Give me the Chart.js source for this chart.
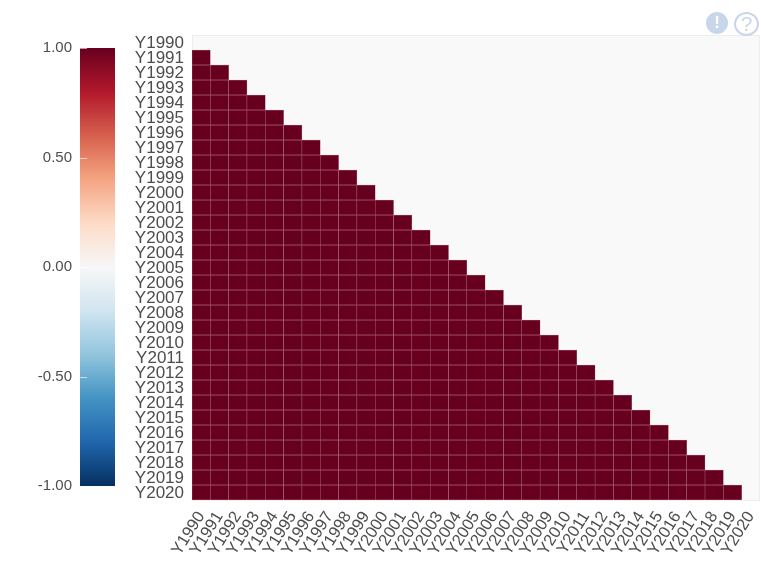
<!DOCTYPE html>
<html>
<head>
<meta charset="utf-8">
<script src="https://cdn.jsdelivr.net/npm/chart.js@4"></script>
<style>
  body { margin: 0; background: #fff; width: 762px; height: 562px; overflow: hidden; font-family: "Liberation Sans", Arial, sans-serif; }
  canvas { position: absolute; left: 0; top: 0; filter: blur(0.6px); }
  .icon { position: absolute; box-sizing: border-box; border-radius: 50%; text-align: center; font-weight: bold; color: #c9d6ea; }
  #iconInfo { left: 706px; top: 12px; width: 22px; height: 22px; line-height: 22px; background: #c9d6ea; color: #fff; font-size: 17px; }
  #iconHelp { left: 734px; top: 12px; width: 25px; height: 24px; line-height: 20px; border: 2px solid #c9d6ea; font-size: 21px; font-weight: normal; }
</style>
</head>
<body>
<canvas id="heatmap" width="762" height="562"></canvas>
<canvas id="colorbar" width="116" height="562"></canvas>
<div class="icon" id="iconInfo">!</div>
<div class="icon" id="iconHelp">?</div>
<script>
var years = ['Y1990','Y1991','Y1992','Y1993','Y1994','Y1995','Y1996','Y1997','Y1998','Y1999','Y2000',
  'Y2001','Y2002','Y2003','Y2004','Y2005','Y2006','Y2007','Y2008','Y2009','Y2010',
  'Y2011','Y2012','Y2013','Y2014','Y2015','Y2016','Y2017','Y2018','Y2019','Y2020'];

// lower triangle of the correlation table, one row per year (Y1990 row is empty)
var corr = [
  [],
  [1],
  [1,1],
  [1,1,1],
  [1,1,1,1],
  [1,1,1,1,1],
  [1,1,1,1,1,1],
  [1,1,1,1,1,1,1],
  [1,1,1,1,1,1,1,1],
  [1,1,1,1,1,1,1,1,1],
  [1,1,1,1,1,1,1,1,1,1],
  [1,1,1,1,1,1,1,1,1,1,1],
  [1,1,1,1,1,1,1,1,1,1,1,1],
  [1,1,1,1,1,1,1,1,1,1,1,1,1],
  [1,1,1,1,1,1,1,1,1,1,1,1,1,1],
  [1,1,1,1,1,1,1,1,1,1,1,1,1,1,1],
  [1,1,1,1,1,1,1,1,1,1,1,1,1,1,1,1],
  [1,1,1,1,1,1,1,1,1,1,1,1,1,1,1,1,1],
  [1,1,1,1,1,1,1,1,1,1,1,1,1,1,1,1,1,1],
  [1,1,1,1,1,1,1,1,1,1,1,1,1,1,1,1,1,1,1],
  [1,1,1,1,1,1,1,1,1,1,1,1,1,1,1,1,1,1,1,1],
  [1,1,1,1,1,1,1,1,1,1,1,1,1,1,1,1,1,1,1,1,1],
  [1,1,1,1,1,1,1,1,1,1,1,1,1,1,1,1,1,1,1,1,1,1],
  [1,1,1,1,1,1,1,1,1,1,1,1,1,1,1,1,1,1,1,1,1,1,1],
  [1,1,1,1,1,1,1,1,1,1,1,1,1,1,1,1,1,1,1,1,1,1,1,1],
  [1,1,1,1,1,1,1,1,1,1,1,1,1,1,1,1,1,1,1,1,1,1,1,1,1],
  [1,1,1,1,1,1,1,1,1,1,1,1,1,1,1,1,1,1,1,1,1,1,1,1,1,1],
  [1,1,1,1,1,1,1,1,1,1,1,1,1,1,1,1,1,1,1,1,1,1,1,1,1,1,1],
  [1,1,1,1,1,1,1,1,1,1,1,1,1,1,1,1,1,1,1,1,1,1,1,1,1,1,1,1],
  [1,1,1,1,1,1,1,1,1,1,1,1,1,1,1,1,1,1,1,1,1,1,1,1,1,1,1,1,1],
  [1,1,1,1,1,1,1,1,1,1,1,1,1,1,1,1,1,1,1,1,1,1,1,1,1,1,1,1,1,1]
];

// colour scale, from -1 up to 1
var scaleColors = ['#053061','#2166ac','#4393c3','#92c5de','#d1e5f0','#f7f7f7','#fddbc7','#f4a582','#d6604d','#b2182b','#67001f'];
var colorbarRange = [-1, 1];
var colorbarTicks = [-1, -0.5, 0, 0.5, 1];

function hexToRgb(h) {
  return [parseInt(h.substr(1,2),16), parseInt(h.substr(3,2),16), parseInt(h.substr(5,2),16)];
}

function colorFor(v) {
  var p = (v + 1) / 2 * (scaleColors.length - 1);
  var i = Math.min(Math.floor(p), scaleColors.length - 2);
  var a = hexToRgb(scaleColors[i]), b = hexToRgb(scaleColors[i + 1]);
  var t = p - i;
  return 'rgb(' + [0,1,2].map(function(k) { return Math.round(a[k] + (b[k] - a[k]) * t); }).join(',') + ')';
}

// each table row becomes one dataset of floating bars
var datasets = corr.map(function(row, r) {
  return {
    label: years[r],
    yAxisID: 'yCell',
    data: row.map(function(v, c) { return { x: years[c], y: [r, r + 1], v: v }; }),
    backgroundColor: function(ctx) { return ctx.raw ? colorFor(ctx.raw.v) : '#67001f'; },
    borderColor: '#b5748a',
    borderWidth: 0.5,
    borderSkipped: false,
    grouped: false,
    barPercentage: 1,
    categoryPercentage: 1
  };
});

var plotBackground = {
  id: 'plotBackground',
  beforeDraw: function(chart) {
    var a = chart.chartArea, c = chart.ctx;
    c.save();
    c.fillStyle = '#f9f9f9';
    c.fillRect(a.left, a.top, a.width, a.height);
    c.strokeStyle = '#eeeeee';
    c.strokeRect(a.left + 0.5, a.top + 0.5, a.width - 1, a.height);
    c.restore();
  }
};

new Chart(document.getElementById('heatmap'), {
  type: 'bar',
  data: { labels: years, datasets: datasets },
  plugins: [plotBackground],
  options: {
    responsive: false,
    animation: false,
    layout: { padding: { top: 35, right: 2, left: 0, bottom: 0 } },
    plugins: { legend: { display: false }, tooltip: { enabled: false } },
    scales: {
      x: {
        type: 'category',
        grid: { display: false },
        border: { display: false },
        afterFit: function(s) { s.height = 62; s.paddingRight = 0; s.paddingLeft = 0; },
        ticks: { autoSkip: false, minRotation: 58, maxRotation: 58, padding: 0, color: '#4d4d4d', font: { family: 'Liberation Sans', size: 16.5 } }
      },
      y: {
        type: 'category',
        labels: years,
        offset: true,
        grid: { display: false },
        border: { display: false },
        afterFit: function(s) {
          s.width = 192;
          // labels sit a little below the middle of their row
          if (!s.labelsShifted) {
            var tickPixel = s.getPixelForTick;
            s.getPixelForTick = function(i) { return tickPixel.call(s, i) + 1; };
            s.labelsShifted = true;
          }
        },
        ticks: { autoSkip: false, padding: 0, color: '#4d4d4d', font: { family: 'Liberation Sans', size: 17 } }
      },
      yCell: { type: 'linear', display: false, min: 0, max: years.length, reverse: true }
    }
  }
});

// ticks on the colour bar are short light dashes inside its left edge
var colorbarDashes = {
  id: 'colorbarDashes',
  afterDatasetsDraw: function(chart) {
    var s = chart.scales.y, a = chart.chartArea, c = chart.ctx;
    c.save();
    c.strokeStyle = 'rgba(255,255,255,0.6)';
    s.ticks.forEach(function(t) {
      var y = Math.round(s.getPixelForValue(t.value)) + 0.5;
      c.beginPath();
      c.moveTo(a.left, y);
      c.lineTo(a.left + 7, y);
      c.stroke();
    });
    c.restore();
  }
};

new Chart(document.getElementById('colorbar'), {
  type: 'bar',
  data: {
    labels: ['scale'],
    datasets: [{
      data: [colorbarRange],
      barPercentage: 1,
      categoryPercentage: 1,
      backgroundColor: function(ctx) {
        var a = ctx.chart.chartArea;
        if (!a) return scaleColors[0];
        var g = ctx.chart.ctx.createLinearGradient(0, a.bottom, 0, a.top);
        scaleColors.forEach(function(col, i) { g.addColorStop(i / (scaleColors.length - 1), col); });
        return g;
      }
    }]
  },
  plugins: [colorbarDashes],
  options: {
    responsive: false,
    animation: false,
    layout: { padding: { top: 48, right: 1, left: 0, bottom: 76 } },
    plugins: { legend: { display: false }, tooltip: { enabled: false } },
    scales: {
      x: { display: false },
      y: {
        min: colorbarRange[0],
        max: colorbarRange[1],
        grid: { display: false },
        border: { display: false },
        afterFit: function(s) { s.width = 80; },
        afterBuildTicks: function(s) { s.ticks = colorbarTicks.map(function(v) { return { value: v }; }); },
        ticks: {
          padding: 0,
          color: '#4d4d4d',
          font: { family: 'Liberation Sans', size: 15 },
          callback: function(v) { return v.toFixed(2); }
        }
      }
    }
  }
});
</script>
</body>
</html>
